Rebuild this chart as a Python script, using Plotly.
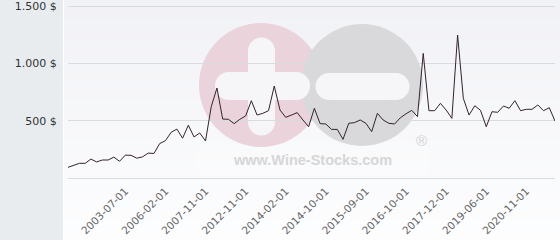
import plotly.graph_objects as go

# ---- data ----
prices = [93, 110, 128, 128, 165, 140, 157, 157, 182, 146,
          199, 198, 173, 184, 217, 214, 300, 325, 398, 427,
          347, 460, 358, 393, 323, 622, 785, 514, 512, 474,
          512, 541, 674, 549, 564, 587, 802, 593, 529, 549,
          570, 506, 447, 608, 474, 471, 424, 424, 337, 477,
          483, 506, 477, 404, 564, 506, 477, 471, 525, 560,
          590, 535, 1087, 587, 587, 651, 593, 520, 1247, 695,
          549, 630, 590, 447, 578, 573, 628, 608, 674, 587,
          599, 599, 637, 587, 613, 497]
tick_positions = [10, 17, 24, 31, 38, 45, 52, 59, 66, 73, 80]
tick_labels = ["2003-07-01", "2006-02-01", "2007-11-01", "2012-11-01", "2014-02-01",
               "2014-10-01", "2015-09-01", "2016-10-01", "2017-12-01", "2019-06-01",
               "2020-11-01"]
y_ticks = [0, 500, 1000, 1500]
y_labels = ["", "500 $", "1.000 $", "1.500 $"]

idx = list(range(len(prices)))

# ---- geometry helpers (pixel -> paper) ----
W, H = 560, 240
L, R, T, B = 68, 555, 0, 182
PW, PH = R - L, B - T
K = 172 / 1500.0  # px per $
Y0 = 178          # pixel row of value 0
ymin = -(B - Y0) / K
ymax = (Y0 - T) / K


def px(x):
    return (x - L) / PW


def py(y):
    return (B - y) / PH


fig = go.Figure()
fig.add_trace(go.Scatter(x=idx, y=prices, mode="lines",
                         line=dict(color="#33232b", width=1), hoverinfo="skip"))

shapes = []
# left grey panel
shapes.append(dict(type="rect", xref="paper", yref="paper", layer="below",
                   x0=px(0), x1=px(63), y0=py(0), y1=py(H),
                   fillcolor="#e8ecef", line=dict(width=0)))
# gradient background of chart region
nb = 24
c0 = (241, 242, 246)
c1 = (253, 253, 254)
for i in range(nb):
    t = i / (nb - 1)
    c = tuple(int(round(c0[k] + (c1[k] - c0[k]) * t)) for k in range(3))
    shapes.append(dict(type="rect", xref="paper", yref="paper", layer="below",
                       x0=px(64), x1=px(W), y0=py(i * H / nb), y1=py((i + 1) * H / nb + 0.5),
                       fillcolor="rgb(%d,%d,%d)" % c, line=dict(width=0)))


# watermark
def circle(cx, cy, r, color):
    return dict(type="circle", xref="paper", yref="paper", layer="below",
                x0=px(cx - r), x1=px(cx + r), y0=py(cy + r), y1=py(cy - r),
                fillcolor=color, line=dict(width=0))


def rbar(x0, x1, y0, y1, color):
    return [dict(type="rect", xref="paper", yref="paper", layer="below",
                 x0=px(x0), x1=px(x1), y0=py(y1), y1=py(y0),
                 fillcolor=color, line=dict(width=0))]


shapes.append(dict(type="rect", xref="paper", yref="paper", layer="below",
                   x0=px(195), x1=px(428), y0=py(174), y1=py(146),
                   fillcolor="rgba(255,255,255,0.2)", line=dict(width=0)))
shapes.append(circle(261, 85, 62, "#ead3da"))
shapes.append(circle(362, 85, 61, "#d9d9db"))
wm = "#f6f6f9"
# plus (vertical bar with round ends)
shapes += rbar(248, 275, 51, 122, wm)
shapes.append(circle(261.5, 51, 13.5, wm))
shapes.append(circle(261.5, 122, 13.5, wm))
# horizontal bar of plus
shapes += rbar(229, 296, 72, 100, wm)
shapes.append(circle(229, 86, 14, wm))
shapes.append(circle(296, 86, 14, wm))
# minus
shapes += rbar(329, 396, 73, 100, wm)
shapes.append(circle(329, 86.5, 13.5, wm))
shapes.append(circle(396, 86.5, 13.5, wm))

annotations = [
    dict(text="<b>www.Wine-Stocks.com</b>", xref="paper", yref="paper",
         x=px(312), y=py(160), xanchor="center", yanchor="middle", showarrow=False,
         font=dict(family="Liberation Sans", size=14.5, color="#d6d6d8")),
    dict(text="®", xref="paper", yref="paper", x=px(421), y=py(140),
         xanchor="center", yanchor="middle", showarrow=False,
         font=dict(family="Liberation Sans", size=15, color="#d2d2d4")),
]

fig.update_layout(
    width=W, height=H,
    margin=dict(l=L, r=W - R, t=T, b=H - B, autoexpand=False),
    paper_bgcolor="#ffffff",
    plot_bgcolor="rgba(0,0,0,0)",
    showlegend=False,
    shapes=shapes,
    annotations=annotations,
    xaxis=dict(range=[0, len(prices) - 1], tickmode="array", tickvals=tick_positions,
               ticktext=tick_labels, tickangle=-45, showgrid=False, zeroline=False,
               showline=False, ticks="", automargin=False,
               tickfont=dict(family="DejaVu Sans", size=10.5, color="#666666")),
    yaxis=dict(range=[ymin, ymax], tickmode="array", tickvals=y_ticks, ticktext=y_labels,
               showgrid=True, gridcolor="#dadbdf", gridwidth=1, zeroline=False,
               showline=False, ticks="outside", ticklen=8, tickcolor="rgba(0,0,0,0)",
               ticklabeloverflow="allow", automargin=False,
               tickfont=dict(family="DejaVu Sans", size=11, color="#333333")),
)

fig.write_html("out.html")
